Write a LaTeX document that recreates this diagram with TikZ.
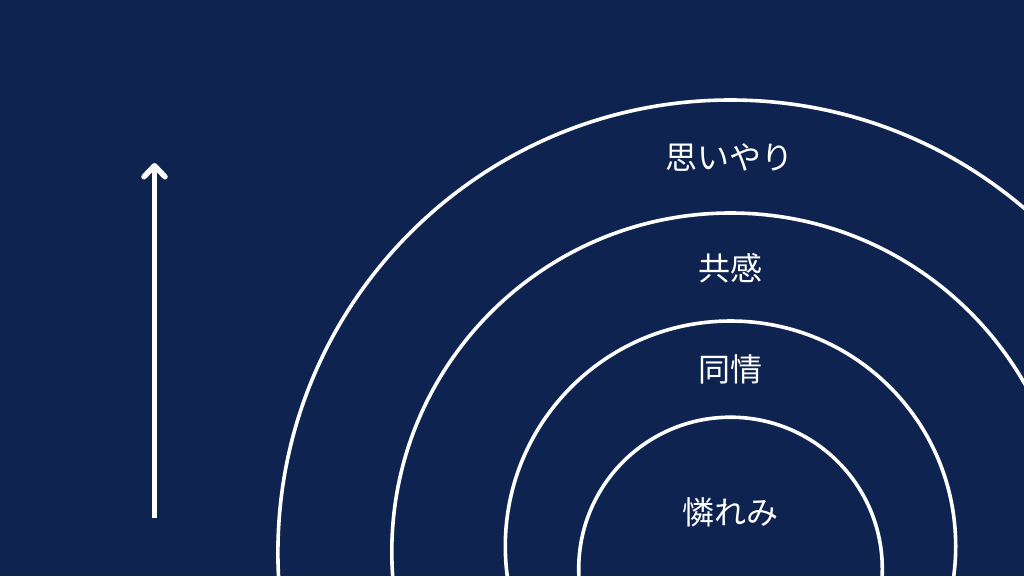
\documentclass[tikz,border=0pt]{standalone}
\usepackage{fontspec}
\newfontfamily\jpfont{Noto Sans CJK JP}
\usetikzlibrary{arrows.meta}
\definecolor{navy}{HTML}{0F2350}
\tikzset{
  ring/.style={draw=white, line width=3.6pt},
  lbl/.style={text=white, font=\jpfont\fontsize{32pt}{38pt}\selectfont, inner sep=0pt, anchor=center},
  uparrow/.style={draw=white, line width=5.5pt, -{Straight Barb[length=11pt, width=21pt, round]}}
}
\begin{document}
\begin{tikzpicture}[x=1pt, y=-1pt]
\useasboundingbox (0,0) rectangle (1024,576);
\fill[navy] (0,0) rectangle (1024,576);
\clip (0,0) rectangle (1024,576);
% rings
\draw[ring] (730.5,552.6) circle[radius=452.6];
\draw[ring] (730.5,551.7) circle[radius=338.7];
\draw[ring] (730.5,546.2) circle[radius=225.2];
\draw[ring] (730.5,569.0) circle[radius=151.8];
% labels
\node[lbl] (omoiyari) at (729,158) {思いやり};
\node[lbl] (kyokan) at (730.5,268) {共感};
\node[lbl] (dojo) at (730.5,369) {同情};
\node[lbl] (awaremi) at (730,512) {憐れみ};
% arrow
\coordinate (abot) at (154.5,518);
\coordinate (atop) at (154.5,163);
\draw[uparrow] (abot) -- (atop);
\end{tikzpicture}
\end{document}
